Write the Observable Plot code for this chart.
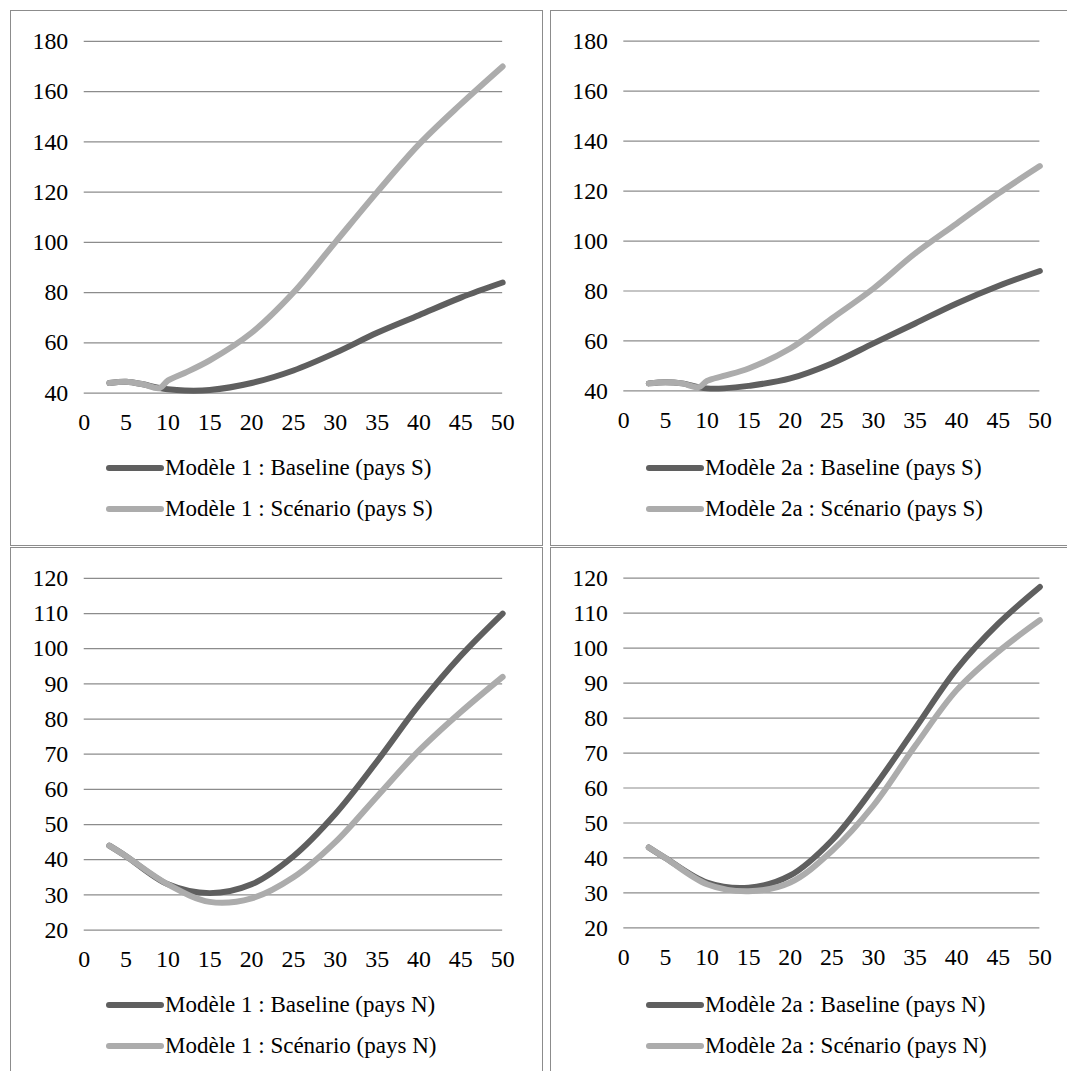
<!DOCTYPE html>
<html><head><meta charset="utf-8">
<script src="https://cdn.jsdelivr.net/npm/d3@7"></script>
<script src="https://cdn.jsdelivr.net/npm/@observablehq/plot@0.6"></script>
<style>
body{margin:0;background:#fff;font-family:"Liberation Serif",serif;}
.panel{position:absolute;border:1px solid #8c8c8c;box-sizing:border-box;background:#fff;overflow:hidden}
.panel svg{position:absolute;left:0;top:0;overflow:visible}
.leg{position:absolute;left:95px;font-size:23px;color:#000;font-family:"Liberation Serif",serif}
.row{display:flex;align-items:center;height:41px}
.sw{width:58px;height:6px;border-radius:3px;margin-right:1px}
.panel svg text{font-family:"Liberation Serif",serif !important;font-size:24px !important}
</style></head><body>
<div id="root"></div>
<script>
const DARK = "#5f5f5f", LIGHT = "#acacac";

// top-left: Modèle 1, pays S
const xS = [3,5,7,9,10,12,15,20,25,30,35,40,45,50];
const m1BaseS = [44,44.5,43.5,42,41.5,41,41.2,44,49,56,64,71,78,84];
const m1ScenS = [44,44.5,43.5,42,45,48,53,64,80,100,120,139,155,170];
// top-right: Modèle 2a, pays S
const m2BaseS = [43,43.5,43,41.5,41,41,42,45,51,59,67,75,82,88];
const m2ScenS = [43,43.5,43,41.5,44,46,49,57,69,81,95,107,119,130];
// bottom: pays N
const xN = [3,5,10,15,20,25,30,35,40,45,50];
const m1BaseN = [44,41,33,30.5,33,41,53,68,84,98,110];
const m1ScenN = [44,41,33,28,29,35,45,58,71,82,92];
const m2BaseN = [43,40,33,31.5,35,45,60,77,94,107,117.5];
const m2ScenN = [43,40,32.5,30.5,33,42,55,72,88,99,108];

const xTicks = d3.range(0, 51, 5);

const panels = [
  {left:10, top:10, w:533, h:536, xs:xS, base:m1BaseS, scen:m1ScenS, dom:[40,180], step:20,
   lb:"Modèle 1 : Baseline (pays S)", ls:"Modèle 1 : Scénario (pays S)"},
  {left:550, top:10, w:530, h:536, xs:xS, base:m2BaseS, scen:m2ScenS, dom:[40,180], step:20,
   lb:"Modèle 2a : Baseline (pays S)", ls:"Modèle 2a : Scénario (pays S)"},
  {left:10, top:547, w:533, h:530, xs:xN, base:m1BaseN, scen:m1ScenN, dom:[20,120], step:10,
   lb:"Modèle 1 : Baseline (pays N)", ls:"Modèle 1 : Scénario (pays N)"},
  {left:550, top:547, w:530, h:530, xs:xN, base:m2BaseN, scen:m2ScenN, dom:[20,120], step:10,
   lb:"Modèle 2a : Baseline (pays N)", ls:"Modèle 2a : Scénario (pays N)"}
];

const root = d3.select("#root");
panels.forEach(p => {
  const div = root.append("div").attr("class","panel")
    .style("left", p.left+"px").style("top", p.top+"px")
    .style("width", p.w+"px").style("height", p.h+"px");
  const base = p.xs.map((x,i) => ({x, y:p.base[i]}));
  const scen = p.xs.map((x,i) => ({x, y:p.scen[i]}));
  const yTicks = d3.range(p.dom[0], p.dom[1]+1, p.step);
  const chart = Plot.plot({
    width: 533, height: 443,
    marginLeft: 73, marginRight: 40, marginTop: 30, marginBottom: 60,
    style: {fontFamily: "Liberation Serif, serif", fontSize: "24px", color: "#000", background: "transparent", overflow: "visible"},
    x: {domain: [0,50], label: null},
    y: {domain: p.dom, label: null},
    marks: [
      Plot.ruleY(yTicks, {stroke: "#8c8c8c", strokeWidth: 1.2}),
      Plot.line(base, {x:"x", y:"y", stroke: DARK, strokeWidth: 6, curve: "catmull-rom", strokeLinecap: "round"}),
      Plot.line(scen, {x:"x", y:"y", stroke: LIGHT, strokeWidth: 6, curve: "catmull-rom", strokeLinecap: "round"}),
      Plot.axisX({ticks: xTicks, tickSize: 0, tickPadding: 20, label: null}),
      Plot.axisY({ticks: yTicks, tickSize: 0, tickPadding: 16, label: null})
    ]
  });
  div.append(() => chart);
  const leg = div.append("div").attr("class","leg").style("top","436px");
  [[DARK,p.lb],[LIGHT,p.ls]].forEach(([c,t]) => {
    const r = leg.append("div").attr("class","row");
    r.append("div").attr("class","sw").style("background", c);
    r.append("span").text(t);
  });
});
</script>
</body></html>
